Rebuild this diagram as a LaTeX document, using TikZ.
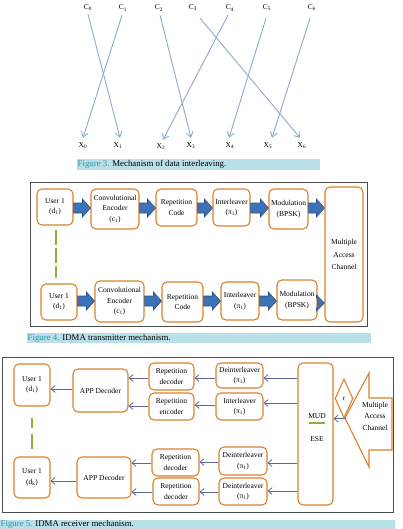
\documentclass[tikz,border=0pt]{standalone}
\usepackage{fontspec}
\setmainfont{Liberation Serif}
\usetikzlibrary{arrows.meta,shapes.geometric,calc}
\definecolor{boxor}{HTML}{D9822B}
\definecolor{lblue}{HTML}{8EA8CF}
\definecolor{fatblue}{HTML}{3E72B6}
\definecolor{fatline}{HTML}{2B5189}
\definecolor{thinb}{HTML}{5A67A3}
\definecolor{capband}{HTML}{B9DFE9}
\definecolor{capteal}{HTML}{2E92A6}
\definecolor{dgreen}{HTML}{8DB040}
\definecolor{framec}{HTML}{4D4D4D}
\newcommand\bx[6]{\node[box,minimum width={(#4-#2)*1pt},minimum height={(#5-#3)*1pt}] (#1) at ({(#2+#4)/2},{(#3+#5)/2}) {#6};}
\newcommand\fat[4]{\draw[fatarr] let \p1=(#1.east |- 0,#3), \p2=(#2.west |- 0,#3) in
  (\x1,\y1+5pt) -- (\x2-8pt,\y1+5pt) -- (\x2-8pt,\y1+#4pt) -- (\x2,\y1) -- (\x2-8pt,\y1-#4pt) -- (\x2-8pt,\y1-5pt) -- (\x1,\y1-5pt) -- cycle;}
\newcommand\tarr[3]{\draw[thinarr] (#1.west |- 0,#3) -- (#2.east |- 0,#3);}
\begin{document}
\begin{tikzpicture}[x=1pt,y=-1pt,
  box/.style={draw=boxor,line width=1.1pt,rounded corners=5pt,fill=white,align=center,font=\fontsize{7.5}{10.5}\selectfont,inner sep=1pt},
  lab/.style={font=\fontsize{7.5}{9}\selectfont,inner sep=1pt},
  txt/.style={font=\fontsize{7.5}{11}\selectfont,align=center,inner sep=0pt},
  captext/.style={anchor=west,inner sep=0.5pt,font=\fontsize{8.8}{9}\selectfont},
  c3arr/.style={draw=lblue,line width=0.9pt,-{Straight Barb[length=5pt,width=7pt]}},
  fatarr/.style={fill=fatblue,draw=fatline,line width=0.6pt},
  thinarr/.style={draw=thinb,line width=0.8pt,-{Straight Barb[length=4pt,width=7pt]}},
  gdash/.style={draw=dgreen,line width=2pt},
  framebox/.style={draw=framec,line width=1pt},
  outline/.style={draw=boxor,line width=1.1pt,fill=white,line join=miter}]
\useasboundingbox (0,0) rectangle (403,529);
% ---------- Figure 3 ----------
\node[lab] (C0) at (88,8) {C\textsubscript{0}};
\node[lab] (C1) at (123,8) {C\textsubscript{1}};
\node[lab] (C2) at (159,8) {C\textsubscript{2}};
\node[lab] (C3) at (193,8) {C\textsubscript{3}};
\node[lab] (C4) at (230,8) {C\textsubscript{4}};
\node[lab] (C5) at (267,8) {C\textsubscript{5}};
\node[lab] (C6) at (312,8) {C\textsubscript{6}};
\node[lab] (X0) at (83,146) {X\textsubscript{0}};
\node[lab] (X1) at (118,146) {X\textsubscript{1}};
\node[lab] (X2) at (161,147) {X\textsubscript{2}};
\node[lab] (X3) at (191,146) {X\textsubscript{3}};
\node[lab] (X4) at (230,146) {X\textsubscript{4}};
\node[lab] (X5) at (268,146) {X\textsubscript{5}};
\node[lab] (X6) at (302,146) {X\textsubscript{6}};
\draw[c3arr] ($(C0.south)+(0,2)$) -- ($(X1.north)+(2,-4)$);
\draw[c3arr] ($(C1.south)+(-1,3)$) -- ($(X0.north)+(0,-4)$);
\draw[c3arr] ($(C2.south)+(1,3)$) -- ($(X3.north)+(0,-4)$);
\draw[c3arr] ($(C3.south)+(7,6)$) -- ($(X6.north)+(-2,-4)$);
\draw[c3arr] ($(C4.south)+(-2,3)$) -- ($(X2.north)+(2,-3)$);
\draw[c3arr] ($(C5.south)+(-1,6)$) -- ($(X4.north)+(-1,-4)$);
\draw[c3arr] ($(C6.south)+(-2,6)$) -- ($(X5.north)+(4,-4)$);
\fill[capband] (77,159) rectangle (320,170);
\node[captext] (cap3) at (77,164.5) {\textcolor{capteal}{Figure 3.} Mechanism of data interleaving.};
% ---------- Figure 4 ----------
\draw[framebox] (30,183) rectangle (367,326);
\bx{u1}{37}{189}{73}{225}{User 1\\(d\textsubscript{1})}
\bx{ce1}{91}{189}{139}{229}{Convolutional\\Encoder\\(c\textsubscript{1})}
\bx{rc1}{156}{189}{197}{226}{Repetition\\Code}
\bx{il1}{213}{189}{250}{226}{Interleaver\\(π\textsubscript{1})}
\bx{md1}{269}{189}{308}{229}{Modulation\\(BPSK)}
\bx{mac}{325}{187}{363}{322}{Multiple\\[2pt]Access\\[2pt]Channel}
\bx{u2}{41}{284}{77}{320}{User 1\\(d\textsubscript{1})}
\bx{ce2}{95}{281}{144}{322}{Convolutional\\Encoder\\(c\textsubscript{1})}
\bx{rc2}{162}{282}{203}{322}{Repetition\\Code}
\bx{il2}{221}{282}{259}{320}{Interleaver\\(π\textsubscript{1})}
\bx{md2}{277}{280}{317}{320}{Modulation\\(BPSK)}
\fat{u1}{ce1}{208}{9}
\fat{ce1}{rc1}{208}{9}
\fat{rc1}{il1}{208}{9}
\fat{il1}{md1}{208}{9}
\fat{md1}{mac}{208}{9}
\fat{u2}{ce2}{301}{9}
\fat{ce2}{rc2}{301}{9}
\fat{rc2}{il2}{301}{9}
\fat{il2}{md2}{301}{9}
\fat{md2}{mac}{303}{8}
\draw[gdash,dash pattern=on 15pt off 3pt] ([xshift=1pt,yshift=-4pt]u1.south) -- ([xshift=-3pt,yshift=5pt]u2.north);
\fill[capband] (27,333) rectangle (371,343);
\node[captext] (cap4) at (27,338) {\textcolor{capteal}{Figure 4.} IDMA transmitter mechanism.};
% ---------- Figure 5 ----------
\draw[framebox] (2,357) rectangle (393,512);
\bx{ua}{14}{364}{50}{406}{User 1\\(d\textsubscript{1})}
\bx{appa}{73}{369}{128}{412}{APP Decoder}
\bx{rda}{149}{363}{194}{390}{Repetition\\decoder}
\bx{rea}{149}{393}{194}{420}{Repetition\\encoder}
\bx{dia}{216}{363}{263}{388}{Deinterleaver\\(π\textsubscript{1})}
\bx{ila}{216}{393}{263}{420}{Interleaver\\(π\textsubscript{1})}
\bx{mud}{298}{363}{333}{505}{}
\bx{ub}{14}{457}{50}{498}{User 1\\(d\textsubscript{k})}
\bx{appb}{77}{457}{131}{498}{APP Decoder}
\bx{rdb1}{152}{449}{199}{476}{Repetition\\decoder}
\bx{rdb2}{153}{478}{199}{505}{Repetition\\decoder}
\bx{dib1}{219}{447}{267}{475}{Deinterleaver\\(π\textsubscript{1})}
\bx{dib2}{219}{478}{267}{505}{Deinterleaver\\(π\textsubscript{1})}
\node[txt] (mudt) at (317,416) {MUD};
\draw[gdash] (309,423) -- (325,423);
\node[txt] (eset) at (317,439) {ESE};
\tarr{mud}{dia}{378}
\tarr{mud}{ila}{403}
\tarr{mud}{dib1}{463}
\tarr{mud}{dib2}{491}
\tarr{dia}{rda}{378}
\tarr{ila}{rea}{405}
\tarr{dib1}{rdb1}{462}
\tarr{dib2}{rdb2}{492}
\tarr{rda}{appa}{378}
\tarr{rea}{appa}{406}
\tarr{rdb1}{appb}{463}
\tarr{rdb2}{appb}{492}
\tarr{appa}{ua}{389}
\tarr{appb}{ub}{481}
\draw[gdash] ([yshift=-11pt]ua.south) -- ++(0,10);
\draw[gdash] ([yshift=-27pt]ua.south) -- ++(0,15);
% big channel arrow
\draw[outline] (392,398) -- (369,398) -- (369,373) -- (345,418) -- (369,467) -- (369,450) -- (392,450) -- cycle;
\node[txt,font=\fontsize{7.5}{11.5}\selectfont] (mach) at (375,416) {Multiple\\Access\\Channel};
\node[diamond,draw=boxor,line width=1.1pt,minimum width=18pt,minimum height=39pt,inner sep=0pt,font=\fontsize{7}{8}\selectfont] (rr) at (344,398.5) {r};
\draw[thinarr] ([xshift=2pt]rr.south) -- (mud.east |- rr.south);
\fill[capband] (0,520) rectangle (395,529);
\node[captext] (cap5) at (0,524.5) {\textcolor{capteal}{Figure 5.} IDMA receiver mechanism.};
\end{tikzpicture}
\end{document}
